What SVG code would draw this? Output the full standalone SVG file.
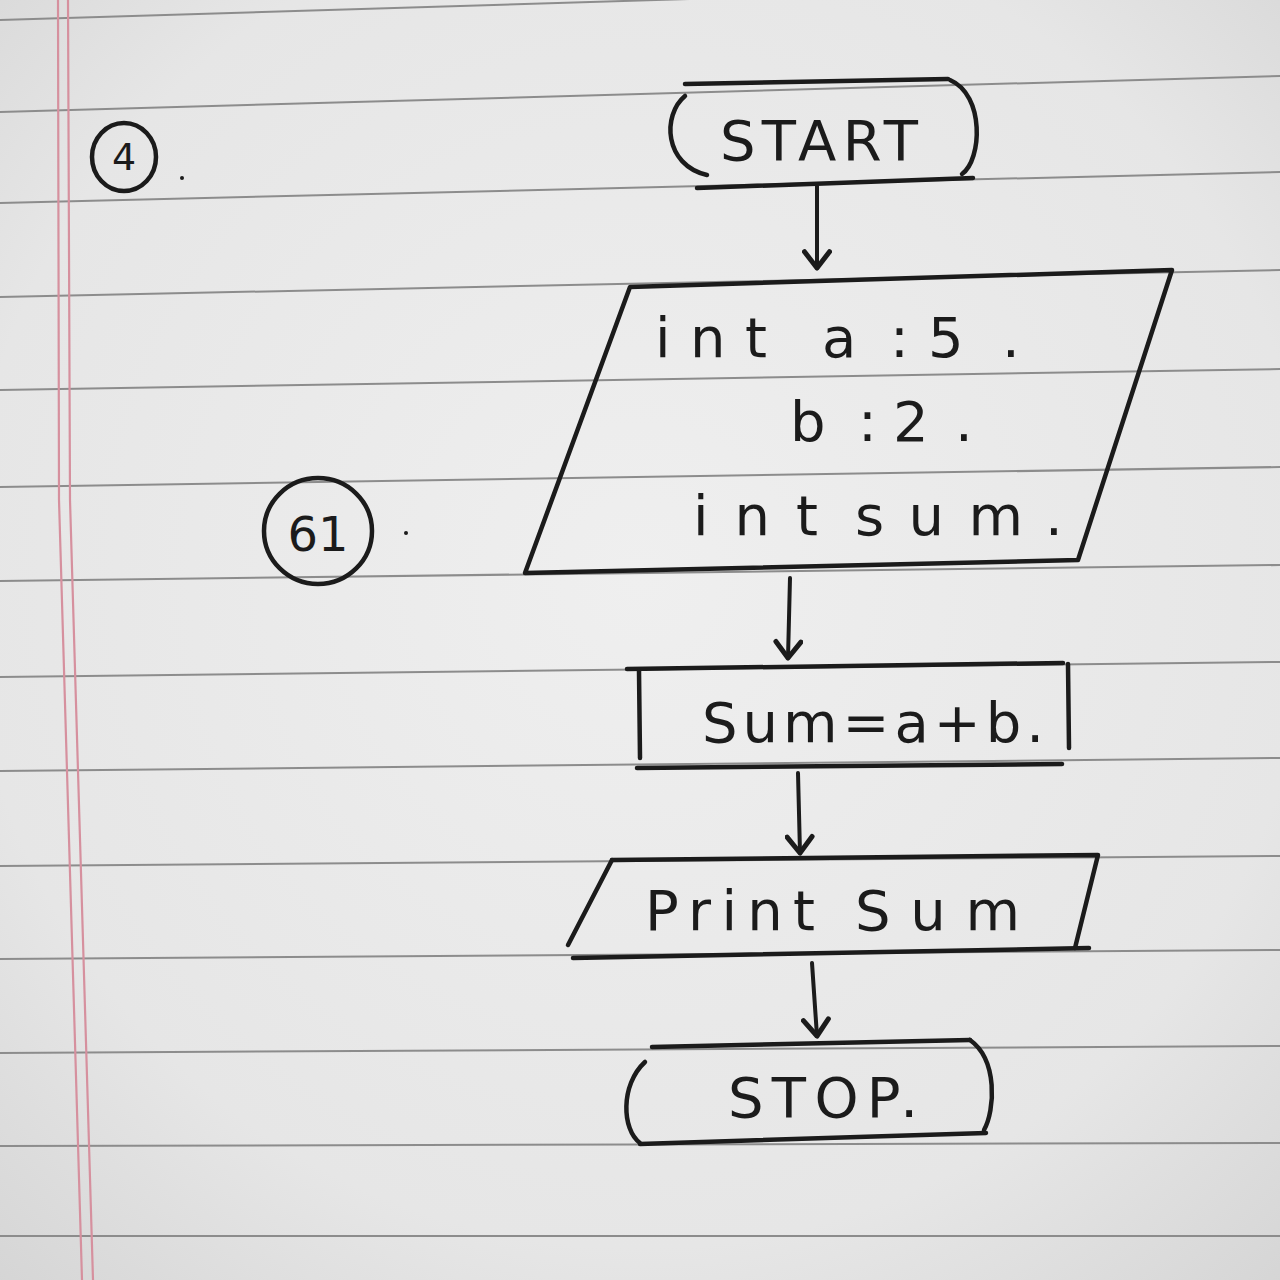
<svg xmlns="http://www.w3.org/2000/svg" width="1280" height="1280" viewBox="0 0 1280 1280">
<defs>
<radialGradient id="paper" cx="0.5" cy="0.45" r="0.75">
<stop offset="0" stop-color="#efefef"/>
<stop offset="0.7" stop-color="#e6e6e6"/>
<stop offset="1" stop-color="#d5d5d5"/>
</radialGradient>
<marker id="ah" markerUnits="userSpaceOnUse" markerWidth="30" markerHeight="30" viewBox="-16 -12 20 24" refX="0" refY="0" orient="auto">
<path d="M-13,-10 L0,0 L-13,10" fill="none" stroke="#1b1b1b" stroke-width="4" stroke-linecap="round" stroke-linejoin="round"/>
</marker>
<style>
.rule{stroke:#8c8c8c;stroke-width:2;fill:none}
.margin{stroke:#d6909e;stroke-width:2.2;fill:none}
.ink{stroke:#1b1b1b;stroke-width:4.5;fill:none;stroke-linecap:round;stroke-linejoin:round}
.conn{stroke:#1b1b1b;stroke-width:4;fill:none;stroke-linecap:round}
.t{font-family:"DejaVu Sans","Liberation Sans",sans-serif;fill:#1b1b1b}
.big{font-size:56px}
</style>
</defs>
<rect x="0" y="0" width="1280" height="1280" fill="url(#paper)"/>
<g id="paper-lines">
<line class="rule" x1="0" y1="20" x2="1280" y2="-19"/>
<line class="rule" x1="0" y1="112" x2="1280" y2="76"/>
<line class="rule" x1="0" y1="203" x2="1280" y2="172"/>
<line class="rule" x1="0" y1="297" x2="1280" y2="270"/>
<line class="rule" x1="0" y1="390" x2="1280" y2="369"/>
<line class="rule" x1="0" y1="487" x2="1280" y2="467"/>
<line class="rule" x1="0" y1="581" x2="1280" y2="565"/>
<line class="rule" x1="0" y1="677" x2="1280" y2="662"/>
<line class="rule" x1="0" y1="771" x2="1280" y2="758"/>
<line class="rule" x1="0" y1="866" x2="1280" y2="856"/>
<line class="rule" x1="0" y1="959" x2="1280" y2="950"/>
<line class="rule" x1="0" y1="1053" x2="1280" y2="1046"/>
<line class="rule" x1="0" y1="1146" x2="1280" y2="1143"/>
<line class="rule" x1="0" y1="1236" x2="1280" y2="1236"/>
<polyline class="margin" points="58,0 59,500 82,1280"/>
<polyline class="margin" points="68,0 70,500 93,1280"/>
</g>

<g id="label-4">
<ellipse cx="124" cy="157" rx="32" ry="34" class="ink" stroke-width="3.5"/>
<text class="t" x="124" y="170" font-size="38" text-anchor="middle">4</text>
<circle cx="182" cy="178" r="2" fill="#1b1b1b"/>
</g>

<g id="label-61">
<ellipse cx="318" cy="531" rx="54" ry="53" class="ink" stroke-width="3.5"/>
<text class="t" x="318" y="551" font-size="48" text-anchor="middle">61</text>
<circle cx="406" cy="533" r="2" fill="#1b1b1b"/>
</g>

<g id="connectors">
<line class="conn" x1="817" y1="186" x2="817" y2="268" marker-end="url(#ah)"/>
<line class="conn" x1="790" y1="578" x2="788" y2="658" marker-end="url(#ah)"/>
<line class="conn" x1="798" y1="773" x2="800" y2="853" marker-end="url(#ah)"/>
<line class="conn" x1="812" y1="963" x2="817" y2="1036" marker-end="url(#ah)"/>
</g>

<g id="start">
<path class="ink" d="M685,84 L948,79"/>
<path class="ink" d="M950,80 C985,95 982,160 962,174"/>
<path class="ink" d="M685,96 C662,115 664,165 707,175"/>
<path class="ink" d="M697,188 L973,178"/>
<text class="t big" x="720" y="160" textLength="198" lengthAdjust="spacing">START</text>
</g>

<g id="init">
<path class="ink" d="M630,287 L1172,270 L1078,560 L525,573 Z"/>
<text class="t big" x="655" y="357" textLength="112" lengthAdjust="spacing">int</text>
<text class="t big" x="822 890 928 1002" y="357">a:5.</text>
<text class="t big" x="790 858 893 955" y="441">b:2.</text>
<text class="t big" x="693" y="535" textLength="125" lengthAdjust="spacing">int</text>
<text class="t big" x="855" y="535" textLength="168" lengthAdjust="spacing">sum</text>
<text class="t big" x="1045" y="535">.</text>
</g>

<g id="process">
<path class="ink" d="M627,669 L1063,663"/>
<path class="ink" d="M639,671 L640,758"/>
<path class="ink" d="M1068,664 L1069,748"/>
<path class="ink" d="M637,768 L1062,764"/>
<text class="t big" x="702" y="742" textLength="342" lengthAdjust="spacing">Sum=a+b.</text>
</g>

<g id="output">
<path class="ink" d="M612,860 L1098,855 L1075,948"/>
<path class="ink" d="M612,860 L568,945"/>
<path class="ink" d="M573,958 L1089,948"/>
<text class="t big" x="645" y="930" textLength="170" lengthAdjust="spacing">Print</text>
<text class="t big" x="855" y="930" textLength="165" lengthAdjust="spacing">Sum</text>
</g>

<g id="stop">
<path class="ink" d="M652,1047 L970,1040"/>
<path class="ink" d="M970,1040 C998,1060 995,1110 984,1130"/>
<path class="ink" d="M645,1062 C620,1085 622,1130 640,1143"/>
<path class="ink" d="M640,1144 L986,1133"/>
<text class="t big" x="728" y="1117" textLength="190" lengthAdjust="spacing">STOP.</text>
</g>
</svg>
